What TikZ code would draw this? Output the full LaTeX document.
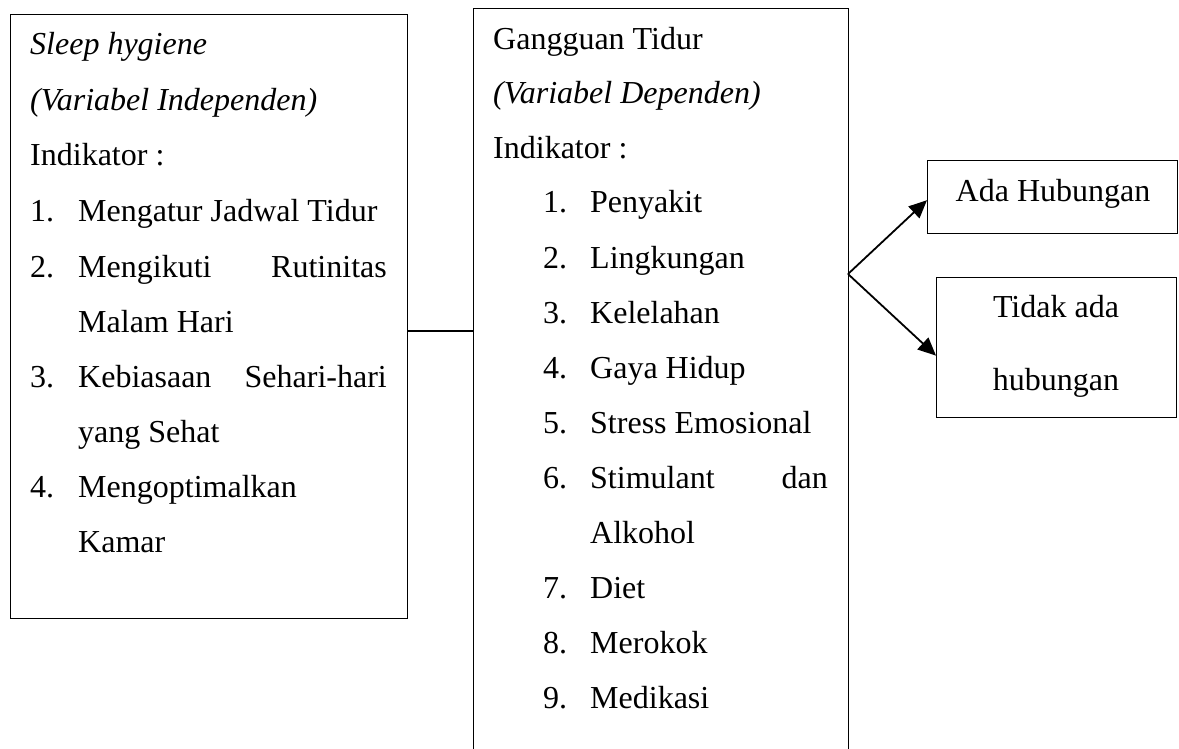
\documentclass[tikz,border=0pt]{standalone}
\usepackage{fontspec}
\setmainfont{Liberation Serif}
\usetikzlibrary{arrows.meta}
\begin{document}
\begin{tikzpicture}[x=1pt,y=-1pt,
  box/.style={draw, line width=1.3pt, rectangle, inner sep=0pt, anchor=north west},
  txt/.style={anchor=base west, inner sep=0pt, font=\fontsize{32}{38}\selectfont},
  txtr/.style={anchor=base east, inner sep=0pt, font=\fontsize{32}{38}\selectfont},
  txtc/.style={anchor=base, inner sep=0pt, font=\fontsize{32}{38}\selectfont},
  link/.style={line width=1.6pt},
  arr/.style={line width=1.8pt, -{Triangle[length=18pt,width=16pt]}}]
\useasboundingbox (0,0) rectangle (1179,749);
\clip (0,0) rectangle (1179,749);
% boxes
\node[box, minimum width=397pt, minimum height=604pt] (left) at (9.5,14) {};
\node[box, minimum width=375pt, minimum height=770pt] (mid) at (473,8) {};
\node[box, minimum width=250pt, minimum height=73pt] (ada) at (927,160) {};
\node[box, minimum width=240pt, minimum height=140pt] (tidak) at (936,277) {};
% left box text
\node[txt] (l1) at (30,55) {\itshape Sleep hygiene};
\node[txt] (l2) at (30,111) {\itshape (Variabel Independen)};
\node[txt] (l3) at (30,166) {Indikator :};
\node[txt] (l4n) at (30,222) {1.};
\node[txt] (l4) at (78,222) {Mengatur Jadwal Tidur};
\node[txt] (l5n) at (30,277) {2.};
\node[txt] (l5a) at (78,277) {Mengikuti};
\node[txtr] (l5b) at (387,277) {Rutinitas};
\node[txt] (l6) at (78,332) {Malam Hari};
\node[txt] (l7n) at (30,387) {3.};
\node[txt] (l7a) at (78,387) {Kebiasaan};
\node[txtr] (l7b) at (387,387) {Sehari-hari};
\node[txt] (l8) at (78,442) {yang Sehat};
\node[txt] (l9n) at (30,497) {4.};
\node[txt] (l9) at (78,497) {Mengoptimalkan};
\node[txt] (l10) at (78,552) {Kamar};
% middle box text
\node[txt] (m1) at (493,50) {Gangguan Tidur};
\node[txt] (m2) at (493,104) {\itshape (Variabel Dependen)};
\node[txt] (m3) at (493,159) {Indikator :};
\node[txt] (m4n) at (543,213) {1.};
\node[txt] (m4) at (590,213) {Penyakit};
\node[txt] (m5n) at (543,268) {2.};
\node[txt] (m5) at (590,268) {Lingkungan};
\node[txt] (m6n) at (543,323) {3.};
\node[txt] (m6) at (590,323) {Kelelahan};
\node[txt] (m7n) at (543,378) {4.};
\node[txt] (m7) at (590,378) {Gaya Hidup};
\node[txt] (m8n) at (543,433) {5.};
\node[txt] (m8) at (590,433) {Stress Emosional};
\node[txt] (m9n) at (543,488) {6.};
\node[txt] (m9a) at (590,488) {Stimulant};
\node[txtr] (m9b) at (828,488) {dan};
\node[txt] (m10) at (590,543) {Alkohol};
\node[txt] (m11n) at (543,598) {7.};
\node[txt] (m11) at (590,598) {Diet};
\node[txt] (m12n) at (543,653) {8.};
\node[txt] (m12) at (590,653) {Merokok};
\node[txt] (m13n) at (543,708) {9.};
\node[txt] (m13) at (590,708) {Medikasi};
% right boxes text
\node[txtc] (r1) at (1053,202) {Ada Hubungan};
\node[txtc] (r2a) at (1056,317) {Tidak ada};
\node[txtc] (r2b) at (1056,390) {hubungan};
% connectors
\coordinate (j) at (440,331);
\draw[link] (left.east |- j) -- (mid.west |- j);
\coordinate (split) at (848,274);
\draw[arr] (split) -- ([yshift=-3pt]ada.west);
\draw[arr] (split) -- ([yshift=-8pt]tidak.west);
\end{tikzpicture}
\end{document}
